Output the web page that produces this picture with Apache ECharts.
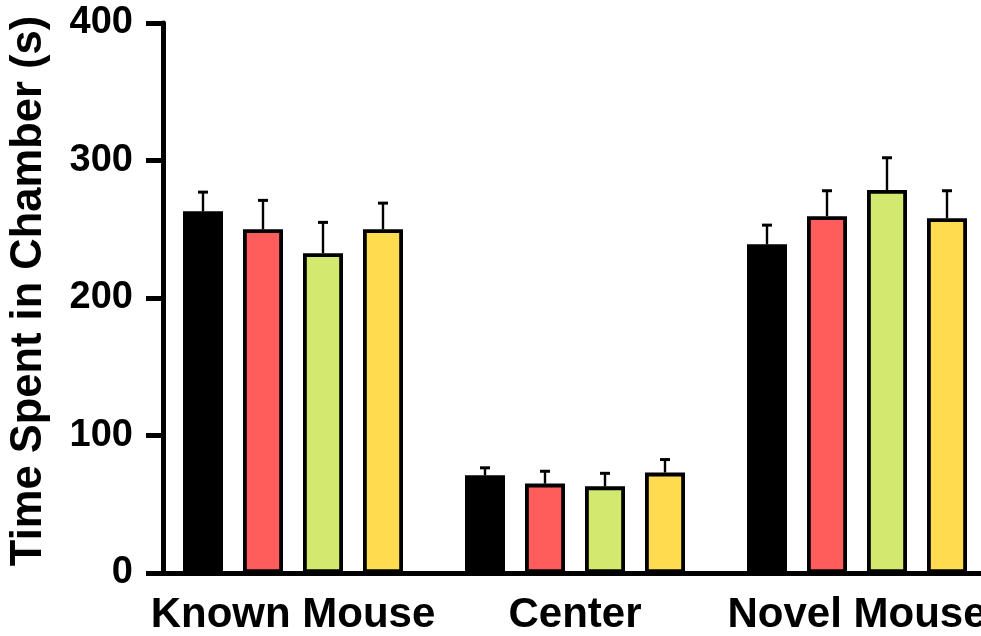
<!DOCTYPE html>
<html>
<head>
<meta charset="utf-8">
<script src="https://cdn.jsdelivr.net/npm/echarts@6/dist/echarts.min.js"></script>
<style>
  html, body { margin: 0; padding: 0; background: #fff; }
  #chart { width: 981px; height: 636px; }
</style>
</head>
<body>
<div id="chart"></div>
<script>
// Chamber categories and y-axis ticks
const categories = ['Known Mouse', 'Center', 'Novel Mouse'];
const yTicks = [0, 100, 200, 300, 400];

// Mean time per group (s) and upper error (SEM)
const meanBlack = [263, 71, 239];
const errBlack = [14, 5.5, 14];
const meanRed = [250, 65, 259.5];
const errRed = [21, 9, 18.5];
const meanGreen = [232.5, 63, 278.5];
const errGreen = [22.5, 9.5, 23.5];
const meanYellow = [250, 73, 258];
const errYellow = [19, 9.5, 20];

const groupColors = ['#000000', '#FF5C5C', '#D2E86F', '#FFDB4F'];
const groupNames = ['Group 1', 'Group 2', 'Group 3', 'Group 4'];
const means = [meanBlack, meanRed, meanGreen, meanYellow];
const errs = [errBlack, errRed, errGreen, errYellow];

const FONT = "'Liberation Sans', Arial, Helvetica, sans-serif";
const BAR_WIDTH = 40;
const BAR_GAP = 0.5;
const BORDER = 3.8;
const PITCH = BAR_WIDTH * (1 + BAR_GAP);
const CAP_HALF = 5;

function errorRenderer(slot) {
  return function (params, api) {
    const cat = api.value(0);
    const mean = api.value(1);
    const err = api.value(2);
    const base = api.coord([cat, mean]);
    const top = api.coord([cat, mean + err]);
    const x = base[0] + (slot - (means.length - 1) / 2) * PITCH;
    return {
      type: 'group',
      children: [
        { type: 'line', shape: { x1: x, y1: base[1], x2: x, y2: top[1] },
          style: { stroke: '#000', lineWidth: 2.4 } },
        { type: 'line', shape: { x1: x - CAP_HALF, y1: top[1], x2: x + CAP_HALF, y2: top[1] },
          style: { stroke: '#000', lineWidth: 3 } }
      ]
    };
  };
}

const barSeries = means.map((m, k) => ({
  name: groupNames[k],
  type: 'bar',
  data: m,
  barWidth: BAR_WIDTH,
  barGap: (BAR_GAP * 100) + '%',
  itemStyle: { color: groupColors[k], borderColor: '#000', borderWidth: BORDER },
  z: 2
}));

const errSeries = means.map((m, k) => ({
  name: groupNames[k] + ' SEM',
  type: 'custom',
  renderItem: errorRenderer(k),
  encode: { x: 0, y: 1 },
  data: categories.map((c, i) => [i, m[i], errs[k][i]]),
  z: 3,
  silent: true
}));

const chart = echarts.init(document.getElementById('chart'), null, { renderer: 'canvas' });
chart.setOption({
  animation: false,
  backgroundColor: '#fff',
  grid: { left: 152, top: 23, width: 846, height: 550, containLabel: false, outerBoundsMode: 'none' },
  xAxis: {
    type: 'category',
    data: categories,
    axisLine: { lineStyle: { color: '#000', width: 5 } },
    axisTick: { alignWithLabel: true, interval: 0, length: 15, lineStyle: { color: '#000', width: 4 } },
    axisLabel: { interval: 0, margin: 21, color: '#000', fontFamily: FONT, fontWeight: 'bold', fontSize: 42 },
    splitLine: { show: false }
  },
  yAxis: {
    type: 'value',
    min: yTicks[0],
    max: yTicks[yTicks.length - 1],
    interval: yTicks[1] - yTicks[0],
    offset: -11,
    name: 'Time Spent in Chamber (s)',
    nameLocation: 'middle',
    nameGap: 112,
    nameTextStyle: { color: '#000', fontFamily: FONT, fontWeight: 'bold', fontSize: 43.5, padding: [0, 0, 0, 14] },
    axisLine: { show: true, lineStyle: { color: '#000', width: 5 } },
    axisTick: { show: true, length: 17, lineStyle: { color: '#000', width: 5 } },
    axisLabel: { margin: 30, color: '#000', fontFamily: FONT, fontWeight: 'bold', fontSize: 38 },
    splitLine: { show: false }
  },
  series: barSeries.concat(errSeries)
});
</script>
</body>
</html>
